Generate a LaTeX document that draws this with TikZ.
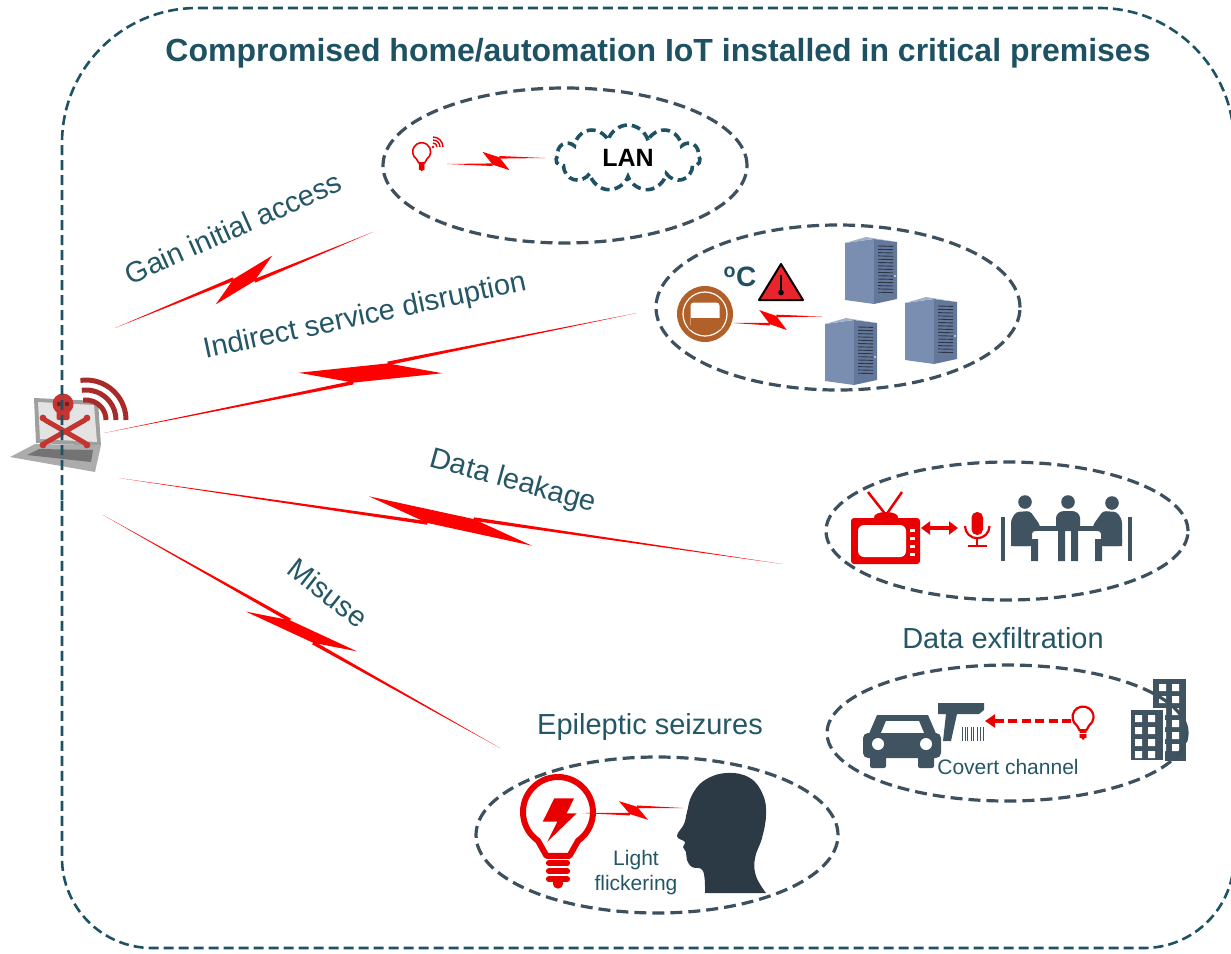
\documentclass[tikz,border=0pt]{standalone}
\usepackage{fontspec}
\setmainfont{Liberation Sans}
\usepackage{tikz}
\usetikzlibrary{positioning}
\usetikzlibrary{calc}
\usetikzlibrary{shapes.geometric,shapes.symbols}
\usetikzlibrary{arrows.meta}

\definecolor{zonegray}{RGB}{61,80,94}
\definecolor{framecol}{RGB}{30,82,99}
\definecolor{labelcol}{RGB}{36,86,102}
\definecolor{zapred}{RGB}{255,0,0}
\definecolor{iconred}{RGB}{232,0,0}
\definecolor{icondark}{RGB}{64,83,97}
\definecolor{headcol}{RGB}{44,58,70}
\definecolor{srvface}{RGB}{122,142,178}
\definecolor{srvside}{RGB}{100,120,155}
\definecolor{thermo}{RGB}{178,96,42}
\definecolor{skullred}{RGB}{196,52,48}
\definecolor{warnred}{RGB}{232,36,44}

\tikzset{
  zone/.style={ellipse, draw=zonegray, line width=3.2pt, dash pattern=on 12pt off 6pt, inner sep=0pt},
  lbl/.style={text=labelcol, font=\fontsize{29}{34}\selectfont, inner sep=0pt},
  smalllbl/.style={text=labelcol, font=\fontsize{21}{25}\selectfont, align=center, inner sep=0pt},
  bulb/.pic={
    \draw[line join=round] (-3.3,12.5) -- (125:10) arc[start angle=125, end angle=415, radius=10] -- (3.3,12.5) -- cycle;
    \foreach \yy in {14.6,16.9,19.2}
      \draw[line cap=round] (-2.6,\yy) -- (2.6,\yy);
    \fill (0,20.4) circle[radius=1.5];
  },
  server/.pic={
    \fill[srvface] (0,7) -- (29,3) -- (29,68) -- (0,64) -- cycle;
    \fill[srvside] (29,3) -- (52,6) -- (52,63) -- (29,68) -- cycle;
    \fill[srvface!70!white] (0,7) -- (21,1) -- (52,6) -- (29,3) -- cycle;
    \foreach \v in {0,...,14}
      \draw[black!55!srvside, line width=0.9pt] (33,{10+3.3*\v}) -- (48,{10.4+3.3*\v});
    \fill[white] (50,40) circle[radius=0.8];
  }
}

% lightning link: [half width]{from}{to}{centre}{side}{half span}{spike}
\newcommand{\zap}[7][1.8pt]{%
  \pgfmathsetmacro{\zg}{0.27*#6}%
  \pgfmathsetmacro{\zgn}{-0.27*#6}%
  \pgfmathsetmacro{\zk}{0.35*#7*#5}%
  \pgfmathsetmacro{\zkn}{-0.35*#7*#5}%
  \pgfmathsetmacro{\zh}{#7*#5}%
  \pgfmathsetmacro{\zhn}{-#7*#5}%
  \coordinate (zj1) at ($(#2)!#4!(#3)!\zgn pt!(#3)!\zkn pt!90:(#3)$);
  \coordinate (zj2) at ($(#2)!#4!(#3)!\zg pt!(#3)!\zk pt!90:(#3)$);
  \coordinate (zt1) at ($(#2)!#4!(#3)!-#6pt!(#3)!\zh pt!90:(#3)$);
  \coordinate (zt2) at ($(#2)!#4!(#3)!#6pt!(#3)!\zhn pt!90:(#3)$);
  \fill[zapred] (#2) -- ($(zj1)!#1!90:(#2)$) -- ($(zj1)!#1!-90:(#2)$) -- cycle;
  \fill[zapred] (#3) -- ($(zj2)!#1!90:(#3)$) -- ($(zj2)!#1!-90:(#3)$) -- cycle;
  \fill[zapred] (zt1) -- (zj2) -- (zt2) -- (zj1) -- cycle;
}

\begin{document}
\begin{tikzpicture}[x=1pt, y=-1pt]
\useasboundingbox (0,0) rectangle (1231,953);

% attacker laptop
\fill[gray!75] (34,398) -- (98,401) -- (101,446) -- (36,443) -- cycle;
\fill[gray!22] (38,402) -- (94,405) -- (97,442) -- (40,439) -- cycle;
\fill[gray!65] (10,457) -- (35,444) -- (101,445) -- (95,472) -- cycle;
\fill[black!55] (27,455) -- (39,449) -- (93,450) -- (91,462) -- cycle;
\fill[skullred] (63,404) circle[radius=10.5];
\fill[skullred, rounded corners=2pt] (56.5,406) rectangle (69.5,420);
\fill[skullred!60!black] (59,404) circle[radius=2.3] (67,404) circle[radius=2.3];
\draw[skullred, line width=5pt, line cap=round] (45,420) -- (85,443) (45,443) -- (85,420);
\fill[skullred] (43,418) circle[radius=3.4] (43,445) circle[radius=3.4]
                (87,418) circle[radius=3.4] (87,445) circle[radius=3.4];
\foreach \r in {20,30,40}
  \draw[skullred!85!black, line width=5pt] (86,420) ++(262:\r) arc[start angle=262, end angle=360, radius=\r];

% premises boundary
\draw[framecol, line width=2.6pt, dash pattern=on 10pt off 5pt]
  (62,500) [rounded corners=135pt] -- (62,8) -- (1234,8) -- (1234,500)
  [rounded corners=90pt] -- (1234,948) -- (62,948) -- (62,500);
\node[text=framecol, font=\bfseries\fontsize{32}{38}\selectfont] (title) at (658,53)
  {Compromised home/automation IoT installed in critical premises};

% LAN zone
\pic[iconred, line width=1.6pt, scale=0.9] at (421.7,151.7) {bulb};
\fill[iconred] (433,147) circle[radius=1.4];
\foreach \r in {4,7,10}
  \draw[iconred, line width=1.4pt] (433,147) ++(270:\r) arc[start angle=270, end angle=360, radius=\r];
\node[cloud, cloud puffs=11, aspect=2.2, draw=framecol, line width=3.6pt,
      dash pattern=on 9pt off 5pt, minimum width=144pt, minimum height=66pt,
      font=\bfseries\fontsize{25}{30}\selectfont, inner sep=0pt] (lan) at (628,158) {LAN};
\coordinate (lanbulb) at (447,164);
\coordinate (lanin) at (545,158);
\zap[1.3pt]{lanbulb}{lanin}{0.5}{1}{13}{10}
\node[zone, minimum width=364pt, minimum height=155pt] (lanzone) at (565,165.5) {};

% data centre zone
\pic at (845,236) {server};
\pic at (905,296) {server};
\pic at (825,317) {server};
\fill[thermo] (705,314) circle[radius=28];
\draw[white, line width=1.2pt] (705,314) circle[radius=22];
\draw[thermo, line width=3pt, fill=white, rounded corners=4pt] (689,301) rectangle (721,329);
\fill[thermo] (690.5,318) rectangle (719.5,327.5);
\node[text=framecol, font=\bfseries\fontsize{28}{32}\selectfont, inner sep=0pt] (degc) at (740,277) {\textsuperscript{o}C};
\draw[black, line width=2pt, fill=warnred, line join=round] (781,264) -- (803,300) -- (759,300) -- cycle;
\draw[black, line width=2.2pt] (781,275) -- (781,290);
\fill[black] (781,292.5) circle[radius=2.8];
\coordinate (hvac) at (733,323);
\coordinate (rack) at (822,316.5);
\zap[1.3pt]{hvac}{rack}{0.45}{1}{13}{11}
\node[zone, minimum width=364pt, minimum height=165pt] (dczone) at (838,307.5) {};

% meeting room zone
\draw[iconred, line width=2.5pt] (868,492) -- (886,515) -- (902,492);
\fill[iconred] (886,517) ellipse[x radius=12, y radius=5];
\fill[iconred, rounded corners=3pt] (851,518) rectangle (920,564);
\fill[white, rounded corners=6pt] (858,525) rectangle (906,557);
\foreach \yy in {529,537,545,553}
  \fill[white] (910,\yy) rectangle (915,{\yy+3});
\coordinate (tvport) at (921,528);
\coordinate (micport) at (958,528);
\draw[iconred, line width=3.5pt, {Triangle[length=9pt,width=13pt]}-{Triangle[length=9pt,width=13pt]}] (tvport) -- (micport);
\fill[iconred, rounded corners=5.5pt] (971.5,512) rectangle (983,535);
\draw[iconred, line width=2.2pt] (965,526) arc[start angle=180, end angle=0, radius=12.25];
\draw[iconred, line width=2.2pt] (977.25,538) -- (977.25,546) (968,546) -- (986.5,546);
\fill[icondark] (1001,517) rectangle (1005,561);
\fill[icondark] (1128,517) rectangle (1132,561);
\fill[icondark] (1021,526) rectangle (1110,531);
\fill[icondark] (1025,502) circle[radius=6.8] (1068,502) circle[radius=6.8] (1112,503) circle[radius=6.8];
\fill[icondark, rounded corners=3pt] (1011,546) -- (1011,520) -- (1016,512) -- (1030,511) -- (1040,525) -- (1040,531) -- (1032,531) -- (1032,546) -- cycle;
\fill[icondark] (1011,539) rectangle (1038,546) (1031,540) rectangle (1038,561);
\fill[icondark, rounded corners=3pt] (1056,531) -- (1056,515) -- (1061,511) -- (1075,511) -- (1080,515) -- (1080,531) -- cycle;
\fill[icondark] (1058,531) rectangle (1065,561) (1071,531) rectangle (1078,561);
\fill[icondark, rounded corners=3pt] (1122,546) -- (1122,520) -- (1117,512) -- (1103,511) -- (1093,525) -- (1093,531) -- (1101,531) -- (1101,546) -- cycle;
\fill[icondark] (1095,539) rectangle (1122,546) (1095,540) rectangle (1102,561);
\node[zone, minimum width=362pt, minimum height=138pt] (meetzone) at (1007,531) {};

% covert channel zone
\fill[icondark] (868,736) -- (877,715) -- (928,715) -- (937,736) -- cycle;
\fill[white] (881,733) -- (886,721) -- (919,721) -- (924,733) -- cycle;
\fill[icondark, rounded corners=5pt] (863,733) rectangle (941,758);
\fill[icondark, rounded corners=2pt] (870,752) rectangle (886,768) (918,752) rectangle (934,768);
\fill[white] (878,744) circle[radius=6] (926,744) circle[radius=6];
\fill[icondark] (938,703) -- (984,703) -- (984,710) -- (979,714) -- (957,714) -- (951,741) -- (943,741) -- (946,714) -- (938,714) -- cycle;
\foreach \bx/\bw in {962/1.2, 964.5/0.6, 966.5/1.5, 970.5/0.6, 973/1.2, 977/0.6, 979.5/1.5, 982.5/0.8}
  \fill[icondark] (\bx,727) rectangle ({\bx+\bw},741);
\pic[iconred, line width=2.2pt, scale=1.05] at (1083,717) {bulb};
\coordinate (leakbulb) at (1071,721);
\coordinate (reader) at (985,721);
\draw[iconred, line width=3.2pt, dash pattern=on 9pt off 4.5pt, -{Triangle[length=10pt,width=13pt]}] (leakbulb) -- (reader);
\fill[icondark] (1153,679) rectangle (1186,761);
\foreach \wy in {684,696,...,744}
  \fill[white] (1159,\wy) rectangle (1166,{\wy+7}) (1172,\wy) rectangle (1179,{\wy+7});
\fill[icondark, draw=white, line width=1.5pt] (1130,709) rectangle (1164,761);
\foreach \wy in {715,727,739,751}
  \fill[white] (1135,\wy) rectangle (1142,{\wy+7}) (1148,\wy) rectangle (1155,{\wy+7});
\node[smalllbl] (covert) at (1008,767) {Covert channel};
\node[zone, minimum width=360pt, minimum height=136pt] (covzone) at (1007,733) {};
\node[lbl] (exfil) at (1003,638) {Data exfiltration};

% flicker zone
\pic[iconred, line width=6pt, scale=3.5] at (558,812) {bulb};
\fill[iconred] (554.3,798.3) -- (574,798.3) -- (566.7,813.3) -- (576.7,813.3) -- (547.3,841.7) -- (557.3,821.7) -- (542.7,821.7) -- cycle;
\fill[headcol] (766,893) -- (705,893) -- plot[smooth, tension=0.7] coordinates {
  (705,893) (703,871) (692,867) (687,860) (686,852) (683,847) (685,842) (677,836)
  (684,824) (687,812) (692,795) (705,780) (727,773) (750,778) (763,795) (766,815)
  (762,838) (755,858) (756,876) (766,893)} -- cycle;
\coordinate (lamp) at (582,813);
\coordinate (viewer) at (683,808);
\zap[1.3pt]{lamp}{viewer}{0.51}{1}{14}{10}
\node[smalllbl] (flicker) at (636,873) {Light\\flickering};
\node[zone, minimum width=362pt, minimum height=156pt] (lightzone) at (657,835) {};
\node[lbl] (seizure) at (650,727) {Epileptic seizures};

% attack links
\coordinate (hk-gain) at (115,328);
\coordinate (hk-svc) at (104,433);
\coordinate (hk-leak) at (119,478);
\coordinate (hk-mis) at (103,515);
\coordinate (to-lan) at (373,232);
\coordinate (to-dc) at (637,313);
\coordinate (to-meet) at (782,564);
\coordinate (to-light) at (500,748);
\zap{hk-gain}{to-lan}{0.5}{-1}{35}{13}
\zap{hk-svc}{to-dc}{0.5}{1}{70}{16}
\zap{hk-leak}{to-meet}{0.5}{1}{84}{14}
\zap{hk-mis}{to-light}{0.5}{-1}{58}{11}

\node[lbl, rotate=24] (gain) at (233,228) {Gain initial access};
\node[lbl, rotate=12] (svc) at (365,317) {Indirect service disruption};
\node[lbl, rotate=-15.5] (leak) at (513,482) {Data leakage};
\node[lbl, rotate=-38] (misuse) at (328,593) {Misuse};
\end{tikzpicture}
\end{document}
